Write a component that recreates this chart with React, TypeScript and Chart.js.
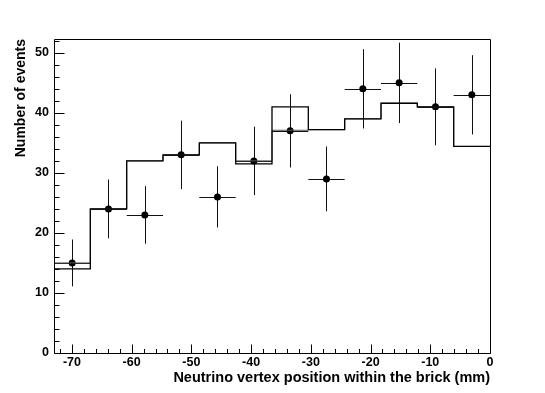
import React, { useEffect, useRef } from "react";
import { Chart, registerables } from "chart.js";

Chart.register(...registerables);

// ---- data ----
const xMin = -73;
const xMax = 0;
const yMin = 0;
const yMax = 52.3;
const binEdges = [-73, -66.92, -60.83, -54.75, -48.67, -42.58, -36.5, -30.42, -24.33, -18.25, -12.17, -6.08, 0];
const binCenters = [-69.96, -63.88, -57.79, -51.71, -45.63, -39.54, -33.46, -27.38, -21.29, -15.21, -9.13, -3.04];
const binHalfWidths = [3.04, 3.04, 3.04, 3.04, 3.04, 3.04, 3.04, 3.04, 3.04, 3.04, 3.04, 3.04];
const dataCounts = [15, 24, 23, 33, 26, 32, 37, 29, 44, 45, 41, 43];
const dataErrors = [3.9, 4.9, 4.8, 5.7, 5.1, 5.7, 6.1, 5.4, 6.6, 6.7, 6.4, 6.6];
const histA = [14, 24, 32, 33, 35, 31.5, 41, 37.2, 39, 41.6, 41, 34.4];
const histB = [15, 24, 32, 33, 35, 32, 37.1, 37.2, 39, 41.6, 41, 34.4];
const xTickValues = [-70, -60, -50, -40, -30, -20, -10, 0];
const yTickValues = [0, 10, 20, 30, 40, 50];
const xTitle = "Neutrino vertex position within the brick (mm)";
const yTitle = "Number of events";

function stepPoints(h: number[]) {
  const pts = h.map((v, i) => ({ x: binEdges[i], y: v }));
  pts.push({ x: binEdges[binEdges.length - 1], y: h[h.length - 1] });
  return pts;
}

const errorBarPlugin = {
  id: "errorBars",
  beforeDatasetsDraw(chart: any) {
    const { ctx } = chart;
    const xs = chart.scales.x;
    const ys = chart.scales.y;
    ctx.save();
    ctx.strokeStyle = "#111";
    ctx.lineWidth = 1;
    for (let i = 0; i < dataCounts.length; i++) {
      const cx = Math.round(xs.getPixelForValue(binCenters[i])) + 0.5;
      const cy = Math.round(ys.getPixelForValue(dataCounts[i])) + 0.5;
      const x0 = xs.getPixelForValue(binCenters[i] - binHalfWidths[i]);
      const x1 = xs.getPixelForValue(binCenters[i] + binHalfWidths[i]);
      const y0 = ys.getPixelForValue(dataCounts[i] - dataErrors[i]);
      const y1 = ys.getPixelForValue(dataCounts[i] + dataErrors[i]);
      ctx.beginPath();
      ctx.moveTo(x0, cy);
      ctx.lineTo(x1, cy);
      ctx.moveTo(cx, y0);
      ctx.lineTo(cx, y1);
      ctx.stroke();
    }
    ctx.restore();
  },
};

const framePlugin = {
  id: "rootFrame",
  afterDraw(chart: any) {
    const { ctx, chartArea } = chart;
    const xs = chart.scales.x;
    const ys = chart.scales.y;
    const L = Math.round(chartArea.left) + 0.5;
    const R = Math.round(chartArea.right) + 0.5;
    const T = Math.round(chartArea.top) + 0.5;
    const B = Math.round(chartArea.bottom) + 0.5;
    ctx.save();
    ctx.strokeStyle = "#000";
    ctx.lineWidth = 1;
    ctx.beginPath();
    ctx.rect(L, T, R - L, B - T);
    ctx.stroke();
    ctx.beginPath();
    // x ticks (inward)
    for (let v = -72; v <= xMax + 0.001; v += 2) {
      const px = Math.round(xs.getPixelForValue(v)) + 0.5;
      const major = Math.abs(v % 10) < 0.001;
      ctx.moveTo(px, B);
      ctx.lineTo(px, B - (major ? 9 : 4.5));
    }
    // y ticks (inward)
    for (let v = 0; v <= yMax; v += 2) {
      const py = Math.round(ys.getPixelForValue(v)) + 0.5;
      const major = Math.abs(v % 10) < 0.001;
      ctx.moveTo(L, py);
      ctx.lineTo(L + (major ? 10 : 5), py);
    }
    ctx.stroke();
    ctx.restore();
  },
};

export default function App() {
  const ref = useRef<HTMLCanvasElement | null>(null);
  useEffect(() => {
    if (!ref.current) return;
    Chart.defaults.font.family = "'Liberation Sans', Arial, sans-serif";
    const chart = new Chart(ref.current, {
      type: "line",
      data: {
        datasets: [
          {
            label: "histA",
            data: stepPoints(histA),
            stepped: "before",
            borderColor: "#000",
            borderWidth: 1.3,
            pointRadius: 0,
            fill: false,
          },
          {
            label: "histB",
            data: stepPoints(histB),
            stepped: "before",
            borderColor: "#555",
            borderWidth: 1,
            pointRadius: 0,
            fill: false,
          },
          {
            label: "data",
            data: binCenters.map((x, i) => ({ x, y: dataCounts[i] })),
            showLine: false,
            pointRadius: 3.5,
            pointBackgroundColor: "#000",
            pointBorderColor: "#000",
            pointBorderWidth: 0,
          },
        ] as any,
      },
      options: {
        animation: false,
        responsive: false,
        events: [],
        layout: { padding: { top: 39, right: 55, left: 0, bottom: 0 } },
        plugins: { legend: { display: false }, tooltip: { enabled: false } },
        scales: {
          x: {
            type: "linear",
            min: xMin,
            max: xMax,
            grid: { display: false, drawTicks: false, tickLength: 0 },
            border: { display: false },
            afterBuildTicks: (s: any) => {
              s.ticks = xTickValues.map((v) => ({ value: v }));
            },
            afterFit: (s: any) => {
              s.height = 40;
            },
            ticks: {
              padding: 2,
              color: "#000",
              maxRotation: 0,
              autoSkip: false,
              font: { size: 12.5, weight: "bold" },
            },
            title: {
              display: true,
              text: xTitle,
              align: "end",
              color: "#000",
              font: { size: 14.5, weight: "bold" },
              padding: { top: 0, bottom: 6 },
            },
          },
          y: {
            type: "linear",
            min: yMin,
            max: yMax,
            grid: { display: false, drawTicks: false, tickLength: 0 },
            border: { display: false },
            afterBuildTicks: (s: any) => {
              s.ticks = yTickValues.map((v) => ({ value: v }));
            },
            afterFit: (s: any) => {
              s.width = 54;
            },
            ticks: {
              padding: 5,
              color: "#000",
              autoSkip: false,
              font: { size: 12.5, weight: "bold" },
            },
            title: {
              display: true,
              text: yTitle,
              align: "end",
              color: "#000",
              font: { size: 14, weight: "bold" },
              padding: { top: 12.6, bottom: 0 },
            },
          },
        },
      } as any,
      plugins: [errorBarPlugin, framePlugin],
    });
    return () => chart.destroy();
  }, []);
  return (
    <div style={{ position: "fixed", left: 0, top: 0, width: 545, height: 393, background: "#fff" }}>
      <canvas ref={ref} width={545} height={393} style={{ display: "block", width: 545, height: 393 }} />
    </div>
  );
}
